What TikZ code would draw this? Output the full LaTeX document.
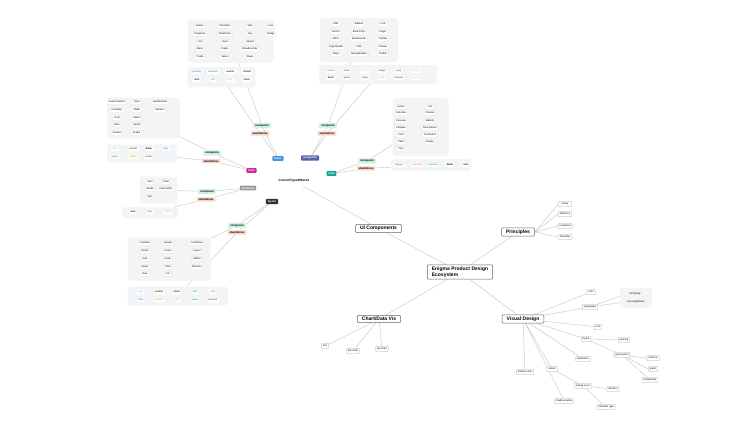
\documentclass[tikz,border=0pt]{standalone}
\usepackage{fontspec}
\setmainfont{Liberation Sans}
\usetikzlibrary{positioning,backgrounds}
\definecolor{linegray}{HTML}{C9C9C9}
\definecolor{panelgray}{HTML}{F3F4F6}
\definecolor{mint}{HTML}{CFF3E2}
\definecolor{peach}{HTML}{F8D5C4}
\definecolor{tagblue}{HTML}{4A8FE0}
\definecolor{tagindigo}{HTML}{5664A8}
\definecolor{tagpink}{HTML}{D1299C}
\definecolor{tagteal}{HTML}{12A58C}
\definecolor{taggray}{HTML}{9A9A9A}
\definecolor{tagdark}{HTML}{2B3037}
\definecolor{cgreen}{HTML}{3BA63B}
\definecolor{cyellow}{HTML}{E8B100}
\definecolor{cpurple}{HTML}{A23AA5}
\definecolor{cred}{HTML}{E0474C}
\definecolor{corange}{HTML}{E89A2A}
\definecolor{cbrown}{HTML}{B07A45}
\definecolor{cmaroon}{HTML}{8E4A4A}
\definecolor{clav}{HTML}{8F9BDA}
\definecolor{cmint}{HTML}{9FDCC5}
\definecolor{cpink}{HTML}{E8B0B8}
\definecolor{clgray}{HTML}{C8C8C8}
\definecolor{cpeach}{HTML}{F0C9A8}
\tikzset{
  topic/.style={draw=black!60, fill=white, rounded corners=1pt, font=\fontsize{5}{6}\selectfont\bfseries, inner xsep=4.5pt, inner ysep=1.8pt, line width=0.5pt},
  leaf/.style={draw=black!35, fill=white, rounded corners=0.6pt, font=\fontsize{2.5}{3}\selectfont, inner xsep=1.5pt, inner ysep=1pt, minimum height=5, line width=0.3pt},
  chip/.style={fill=white, draw=black!6, rounded corners=0.5pt, font=\fontsize{2.4}{3}\selectfont\bfseries, inner xsep=1.5pt, inner ysep=0.9pt, minimum height=5, line width=0.3pt},
  panel/.style={fill=panelgray, rounded corners=3pt},
  tag/.style={fill=#1, text=white, rounded corners=0.8pt, font=\fontsize{2.8}{3}\selectfont\bfseries, inner xsep=2pt, inner ysep=1.3pt},
  kind/.style={fill=#1, rounded corners=0.8pt, font=\fontsize{2.8}{3}\selectfont\bfseries, inner xsep=2pt, inner ysep=1.2pt},
  link/.style={draw=linegray, line width=0.45pt}
}

\begin{document}
\begin{tikzpicture}[x=1pt, y=-1pt]
\useasboundingbox (0,0) rectangle (755,439);

% main topics
\node[topic, align=left] (root) at (460,272) {Enigma Product Design\\Ecosystem};
\node[topic] (ui) at (378.5,228.5) {UI Components};
\node[topic] (principles) at (518,232) {Principles};
\node[topic] (visual) at (523,319) {Visual Design};
\node[topic] (chart) at (379,319) {Chart/Data Vis};
\node[font=\fontsize{3.2}{4}\selectfont\bfseries] (words) at (294,181) {CurrentTypedWords};

% principles
\foreach \y/\t [count=\n] in {204/clarity, 214/efficiency, 226/consistent, 237/beautiful}
  \node[leaf, minimum width=13] (pr-\n) at (565,\y) {\t};

% chart
\node[leaf] (ch-1) at (325,346) {line};
\node[leaf] (ch-2) at (353,351) {bar chart};
\node[leaf] (ch-3) at (382,349) {pie chart};

% visual design
\node[leaf] (vd-color) at (591,292) {color};
\node[leaf] (vd-type) at (590,307) {typography};
\node[panel, minimum width=32, minimum height=20] (typebox) at (636,298) {};
\node[font=\fontsize{2.5}{3}\selectfont] (vd-font) at (635,294) {font family};
\node[font=\fontsize{2.5}{3}\selectfont] (vd-size) at (636,302) {font weight/size};
\node[leaf] (vd-icon) at (598,327) {icon};
\node[leaf] (vd-layout) at (586,339) {layout};
\node[leaf] (vd-space) at (624,340) {spacing};
\node[leaf] (vd-grid) at (622,355) {grid system};
\node[leaf] (vd-col) at (653,358) {columns};
\node[leaf] (vd-gut) at (653,369) {gutter};
\node[leaf] (vd-bp) at (650,380) {breakpoints};
\node[leaf] (vd-ill) at (583,359) {illustration};
\node[leaf] (vd-motion) at (552,369) {motion};
\node[leaf] (vd-ease) at (583,386) {easing curve};
\node[leaf] (vd-dur) at (613,389) {duration};
\node[leaf] (vd-trans) at (606,407) {transition type};
\node[leaf] (vd-shadow) at (564,401) {shadow radius};
\node[leaf] (vd-dv) at (525,372) {dataviz color};

% component tags
\node[tag=tagblue] (basic) at (278,158.5) {basic};
\node[tag=tagindigo] (nav) at (310,158) {navigation};
\node[tag=tagpink] (form) at (251.5,170.5) {form};
\node[tag=tagteal] (data) at (331.5,173.5) {data};
\node[tag=taggray] (feedback) at (248,188) {feedback};
\node[tag=tagdark] (layout) at (272,201.5) {layout};

\foreach \tg/\cx/\cy/\sx/\sy in {basic/262/125.5/260/133.5, nav/328/125.5/327/133.5,
    form/212/153/211/161, data/367/161/366/168.5, feedback/207/191.5/206/199.5,
    layout/237/225.5/237/232.5} {
  \node[kind=mint] (\tg-comp) at (\cx,\cy) {composite};
  \node[kind=peach] (\tg-stand) at (\sx,\sy) {standalone};
}

% panels
\node[panel, minimum width=86, minimum height=43] (basic-items) at (230.5,41) {};
\node[panel, minimum width=68, minimum height=20] (basic-colors) at (221.5,77) {};
\node[panel, minimum width=78, minimum height=44] (nav-items) at (359,40) {};
\node[panel, minimum width=118, minimum height=19] (nav-colors) at (378,74.5) {};
\node[panel, minimum width=56, minimum height=58] (data-items) at (420.5,127) {};
\node[panel, minimum width=80, minimum height=12] (data-colors) at (431,165) {};
\node[panel, minimum width=73, minimum height=41] (form-items) at (143.5,118) {};
\node[panel, minimum width=70, minimum height=18] (form-colors) at (142,153.5) {};
\node[panel, minimum width=38, minimum height=27] (feedback-items) at (158.5,190) {};
\node[panel, minimum width=56, minimum height=11] (feedback-colors) at (150,212.5) {};
\node[panel, minimum width=83, minimum height=43] (layout-items) at (169,259) {};
\node[panel, minimum width=100, minimum height=19] (layout-colors) at (177.5,296) {};

% panel items
\foreach \x/\y/\t [count=\n] in {200/26/Button, 200/34/Dropdown, 200/42/Link, 200/49/Menu, 200/57/Tooltip,
    225/26/Checkbox, 225/34/DatePicker, 225/42/Input, 225/49/Radio, 225/57/Select,
    250/26/Tabs, 250/34/Tag, 250/42/Upload, 250/49/Breadcrumbs, 250/57/Steps,
    271/26/Icon, 271/34/Badge}
  \node[leaf, draw=black!12] (basic-\n) at (\x,\y) {\t};
\foreach \x/\y/\t [count=\n] in {336/24/Affix, 336/32/Anchor, 336/39/Menu, 336/47/PageHeader, 336/54/Steps,
    359/24/Sidebar, 359/32/BackToTop, 359/39/Breadcrumb, 359/47/Tabs, 359/54/NavigationBar,
    383/24/Link, 383/32/Pager, 383/39/TopNav, 383/47/Drawer, 383/54/Toolbar}
  \node[leaf, draw=black!12] (nav-\n) at (\x,\y) {\t};
\foreach \x/\y/\t [count=\n] in {401/107/Avatar, 401/113/Calendar, 401/121/Carousel, 401/128/Collapse, 401/135/Card, 401/142/Table, 401/149/Tree,
    430/107/List, 430/113/Timeline, 430/121/Statistic, 430/128/Descriptions, 430/135/TreeSelect, 430/142/Empty}
  \node[leaf, draw=black!12] (data-\n) at (\x,\y) {\t};
\foreach \x/\y/\t [count=\n] in {117/102/AutoComplete, 117/110/Cascader, 117/118/Form, 117/125/Rate, 117/133/Transfer,
    137/102/Input, 137/110/Slider, 137/118/Select, 137/125/Switch, 137/133/Radio,
    160/102/InputNumber, 160/110/Mention}
  \node[leaf, draw=black!12] (form-\n) at (\x,\y) {\t};
\foreach \x/\y/\t [count=\n] in {150/182/Alert, 150/189/Modal, 150/197/Spin, 166/182/Toast, 166/189/Popconfirm}
  \node[leaf, draw=black!12] (feedback-\n) at (\x,\y) {\t};
\foreach \x/\y/\t [count=\n] in {145/243/Container, 145/251/Divider, 145/259/Grid, 145/267/Space, 145/274/Row,
    168/243/Header, 168/251/Footer, 168/259/Aside, 168/267/Main, 168/274/Col,
    197/243/ScrollView, 197/251/Layout, 197/259/Splitter, 197/267/Masonry}
  \node[leaf, draw=black!12] (layout-\n) at (\x,\y) {\t};

% colour chips
\foreach \x/\y/\c/\t [count=\n] in {197/72/tagblue/primary, 213/72/tagteal/success, 230/72/tagdark/neutral, 247/72/tagdark/default,
    197/80/tagdark/dark, 213/80/clav/info, 230/80/cmint/light, 247/80/tagdark/black}
  \node[chip, text=\c] (basic-c\n) at (\x,\y) {\t};
\foreach \x/\y/\c/\t [count=\n] in {331/71/cbrown/brown, 347/71/tagdark!70/slate, 365/71/cpeach/peach, 382/71/tagindigo/indigo, 399/71/tagdark!70/gray, 416/71/cmint/mint,
    331/78/tagdark/black, 347/78/cgreen!70!black/green, 365/78/tagindigo!80!black/navy, 382/78/cpink/pink, 399/78/cmaroon/maroon, 416/78/cmint/aqua}
  \node[chip, text=\c] (nav-c\n) at (\x,\y) {\t};
\foreach \x/\y/\c/\t [count=\n] in {399/165/cred/danger, 417/165/corange/warning, 433/165/tagteal/success, 450/165/black/black, 466/165/tagdark/dark}
  \node[chip, text=\c] (data-c\n) at (\x,\y) {\t};
\foreach \x/\y/\c/\t [count=\n] in {115/149/clgray/light, 133/149/tagdark!75/neutral, 149/149/black/black, 166/149/tagblue/blue,
    115/157/cgreen/green, 133/157/cyellow/yellow, 149/157/cpurple/purple}
  \node[chip, text=\c] (form-c\n) at (\x,\y) {\t};
\foreach \x/\y/\c/\t [count=\n] in {133/212/tagdark/dark, 150/212/tagblue/blue, 168/212/clgray/light}
  \node[chip, text=\c] (feedback-c\n) at (\x,\y) {\t};
\foreach \x/\y/\c/\t [count=\n] in {141/292/clgray/light, 159/292/tagdark/neutral, 177/292/tagdark/black, 195/292/tagteal/teal, 213/292/cmaroon!70/rose,
    141/300/tagblue/blue, 159/300/cyellow/yellow, 177/300/tagblue!60/sky, 195/300/tagteal/green, 213/300/cmaroon/maroon}
  \node[chip, text=\c] (layout-c\n) at (\x,\y) {\t};

% connectors
\begin{scope}[on background layer]
  \fill[white] (0,0) rectangle (755,439);
  \draw[link] (root) -- (ui);
  \draw[link] (root) -- (principles);
  \draw[link] (root) -- (visual);
  \draw[link] (root) -- (chart);
  \draw[link] (ui) -- (words);
  \foreach \n in {1,...,4}
    \draw[link] (principles.east) -- (pr-\n.west);
  \foreach \n in {1,2,3}
    \draw[link] (chart) -- (ch-\n);
  \foreach \v in {vd-color, vd-type, vd-icon, vd-layout, vd-ill, vd-motion, vd-shadow, vd-dv}
    \draw[link] (visual) -- (\v);
  \draw[link] (vd-type) -- (vd-font.west);
  \draw[link] (vd-type) -- (vd-size.west);
  \draw[link] (vd-layout) -- (vd-space);
  \draw[link] (vd-layout) -- (vd-grid);
  \draw[link] (vd-grid) -- (vd-col.west);
  \draw[link] (vd-grid) -- (vd-gut.west);
  \draw[link] (vd-grid) -- (vd-bp);
  \draw[link] (vd-motion) -- (vd-ease);
  \draw[link] (vd-ease) -- (vd-dur);
  \draw[link] (vd-ease) -- (vd-trans);
  \foreach \tg in {basic, nav, form, data, feedback, layout} {
    \draw[link] (\tg) -- (\tg-comp);
    \draw[link] (\tg) -- (\tg-stand);
    \draw[link] (\tg-comp) -- (\tg-items);
    \draw[link] (\tg-stand) -- (\tg-colors);
  }
\end{scope}
\end{tikzpicture}
\end{document}
